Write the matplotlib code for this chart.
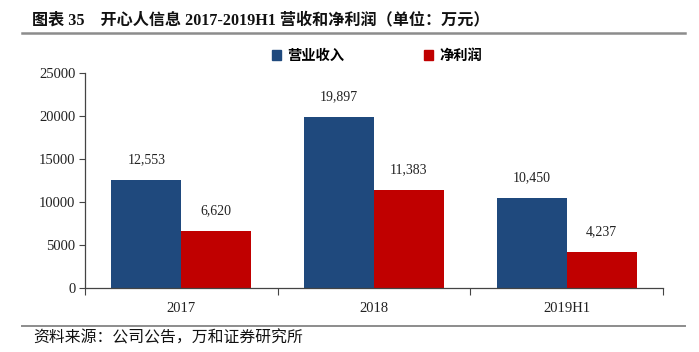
import numpy as np
import matplotlib.pyplot as plt
from matplotlib.patches import Patch
from matplotlib.lines import Line2D

# data
categories = ['2017', '2018', '2019H1']
revenue = [12553, 19897, 10450]
net_profit = [6620, 11383, 4237]
series_names = ['营业收入', '净利润']
yticks = [0, 5000, 10000, 15000, 20000, 25000]

blue = '#1F497D'
red = '#C00000'
serif = ['Liberation Serif', 'DejaVu Serif']
cjk = ['Noto Sans CJK SC', 'Liberation Serif']
mixed = ['Liberation Serif', 'Noto Sans CJK SC']

fig = plt.figure(figsize=(6.99, 3.52), dpi=100)
ax = fig.add_axes([85 / 699, 1 - 288 / 352, 578 / 699, (288 - 73.5) / 352])

x = np.arange(len(categories))
w = 0.363
b1 = ax.bar(x - w / 2, revenue, w, color=blue)
b2 = ax.bar(x + w / 2, net_profit, w, color=red)

for bars, vals in ((b1, revenue), (b2, net_profit)):
    for r, v in zip(bars, vals):
        ax.annotate(f'{v:,}', (r.get_x() + r.get_width() / 2, v),
                    xytext=(0, 10), textcoords='offset points',
                    ha='center', va='bottom', fontsize=10, family=serif, color='#222222')

ax.set_xlim(-0.5, len(categories) - 0.5)
ax.set_ylim(0, 25000)
ax.set_yticks(yticks)
ax.set_yticklabels([str(t) for t in yticks], family=serif, fontsize=10.5, color='#222222')
ax.set_xticks(x)
ax.set_xticklabels(categories, family=serif, fontsize=10.5, color='#222222')
ax.tick_params(axis='x', length=0, pad=10)
ax.tick_params(axis='y', length=4, width=0.8, color='#444444', pad=3)
# boundary ticks on the x axis
ax.set_xticks(np.arange(len(categories) + 1) - 0.5, minor=True)
ax.tick_params(axis='x', which='minor', length=5, width=0.8, color='#444444')

for s in ('top', 'right'):
    ax.spines[s].set_visible(False)
for s in ('left', 'bottom'):
    ax.spines[s].set_color('#444444')
    ax.spines[s].set_linewidth(0.9)

handles = [Patch(color=blue), Patch(color=red)]
fig.legend(handles, series_names, loc='center', bbox_to_anchor=(377 / 699, 1 - 56 / 352),
           ncol=2, frameon=False, handlelength=0.65, handleheight=0.65, handletextpad=0.4,
           columnspacing=5.6, prop={'family': cjk, 'size': 10.3, 'weight': 'bold'})

# title, rules and source
fig.text(32 / 699, 1 - 20 / 352, '图表 35    开心人信息 2017-2019H1 营收和净利润（单位：万元）',
         family=mixed, fontsize=11.6, weight='bold', va='center', ha='left', color='#111111')
fig.add_artist(Line2D([22 / 699, 685 / 699], [1 - 33 / 352] * 2, color='#8C8C8C', lw=1.8))
fig.add_artist(Line2D([22 / 699, 685 / 699], [1 - 326 / 352] * 2, color='#8C8C8C', lw=1.4))
fig.text(33 / 699, 1 - 338 / 352, '资料来源：公司公告，万和证券研究所',
         family=cjk, fontsize=11.4, va='center', ha='left', color='#111111')

fig.savefig('out.png', dpi=100)
